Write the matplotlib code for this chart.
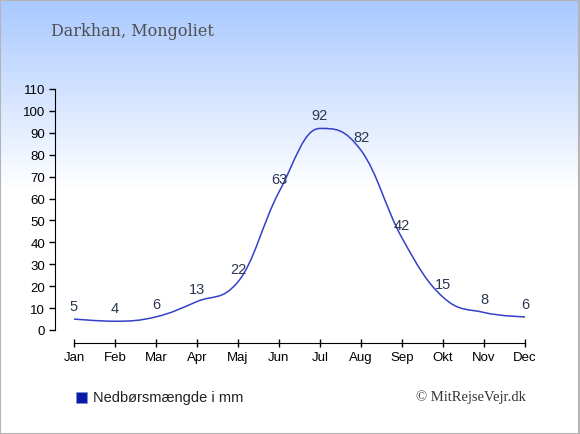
"""
Nedbør i Darkhan, Mongoliet - månedlig nedbørsmængde
"""
import numpy as np
import matplotlib.pyplot as plt
from matplotlib.path import Path
from matplotlib.patches import PathPatch, Rectangle

months = ["Jan", "Feb", "Mar", "Apr", "Maj", "Jun",
          "Jul", "Aug", "Sep", "Okt", "Nov", "Dec"]
rain = [5, 4, 6, 13, 22, 63, 92, 82, 42, 15, 8, 6]
yticks = list(range(0, 111, 10))

W, H = 580, 435
fig = plt.figure(figsize=(W/100, H/100), dpi=100)

# background gradient (light blue at top -> white)
bg = fig.add_axes([0, 0, 1, 1], zorder=-10)
bg.set_axis_off()
rows = np.linspace(0, 1, H)
t = np.clip(rows/(190/H), 0, 1)
top = np.array([168, 200, 255])/255.
img = top[None, :]*(1-t[:, None]) + np.ones(3)[None, :]*t[:, None]
bg.imshow(img[:, None, :], aspect='auto', extent=[0, 1, 0, 1])
bg.set_xlim(0, 1)
bg.set_ylim(0, 1)
bg.add_patch(Rectangle((0.0008, 0.001), 0.9975, 0.997, fill=False,
                       edgecolor='#b4b4b4', linewidth=1.5, transform=bg.transAxes))

# plot area: y axis at x=55px, Jan at 74px, Dec at 525px
ax = fig.add_axes([55/W, (H-331)/H, 485/W, 241/H])
ax.patch.set_alpha(0)
step = (525-74)/11
ax.set_xlim(-19/step, 11 + 15/step)
ax.set_ylim(0, 110)

# smooth spline like the original chart (cubic bezier segments)
x = np.arange(len(rain), dtype=float)
y = np.array(rain, dtype=float)
sm = 1.5
verts = [(x[0], y[0])]
codes = [Path.MOVETO]
right_prev = (x[0], y[0])
for i in range(1, len(x)):
    if i < len(x) - 1:
        lx = (sm*x[i] + x[i-1])/(sm+1)
        ly = (sm*y[i] + y[i-1])/(sm+1)
        rx = (sm*x[i] + x[i+1])/(sm+1)
        ry = (sm*y[i] + y[i+1])/(sm+1)
        corr = (ry - ly)*(rx - x[i])/(rx - lx) + y[i] - ry
        ly += corr
        ry += corr
        if ly > max(y[i-1], y[i]):
            ly = max(y[i-1], y[i]); ry = 2*y[i] - ly
        elif ly < min(y[i-1], y[i]):
            ly = min(y[i-1], y[i]); ry = 2*y[i] - ly
        if ry > max(y[i+1], y[i]):
            ry = max(y[i+1], y[i]); ly = 2*y[i] - ry
        elif ry < min(y[i+1], y[i]):
            ry = min(y[i+1], y[i]); ly = 2*y[i] - ry
        left = (lx, ly)
        right = (rx, ry)
    else:
        left = (x[i], y[i])
        right = None
    verts += [right_prev, left, (x[i], y[i])]
    codes += [Path.CURVE4]*3
    right_prev = right
ax.add_patch(PathPatch(Path(verts, codes), fill=False,
                       edgecolor='#3340c8', linewidth=1.1))

for i, v in enumerate(rain):
    ax.annotate(str(v), (i, v), xytext=(0, 13), textcoords='offset pixels',
                ha='center', va='center', fontsize=10.5,
                family='Liberation Sans', color='#2b3650')

ax.spines['top'].set_visible(False)
ax.spines['right'].set_visible(False)
ax.spines['left'].set_bounds(0, 110)
ax.spines['bottom'].set_position(('outward', 9))
ax.spines['bottom'].set_bounds(0, 11)
ax.set_yticks(yticks)
ax.set_xticks(range(12))
ax.set_xticklabels(months)
ax.tick_params(axis='y', length=4, width=1, labelsize=9.5, pad=3)
ax.tick_params(axis='x', direction='inout', length=6, width=1,
               labelsize=9.5, pad=3)
for lab in ax.get_xticklabels() + ax.get_yticklabels():
    lab.set_family('Liberation Sans')

fig.text(51/W, 1 - 32/H, "Darkhan, Mongoliet", family='DejaVu Serif',
         fontsize=11.5, color='#505050', va='center', ha='left')

fig.patches.append(Rectangle((76/W, 1 - 404/H), 11/W, 11/H,
                             facecolor='#0a1aa8', edgecolor='#8090d0',
                             linewidth=0.5, transform=fig.transFigure))
fig.text(93/W, 1 - 398/H, "Nedbørsmængde i mm", family='Liberation Sans',
         fontsize=10.5, color='#222222', va='center', ha='left')
fig.text(526/W, 1 - 397/H, "© MitRejseVejr.dk", family='Liberation Serif',
         fontsize=10.5, color='#333333', va='center', ha='right')

fig.savefig('out.png', dpi=100)
